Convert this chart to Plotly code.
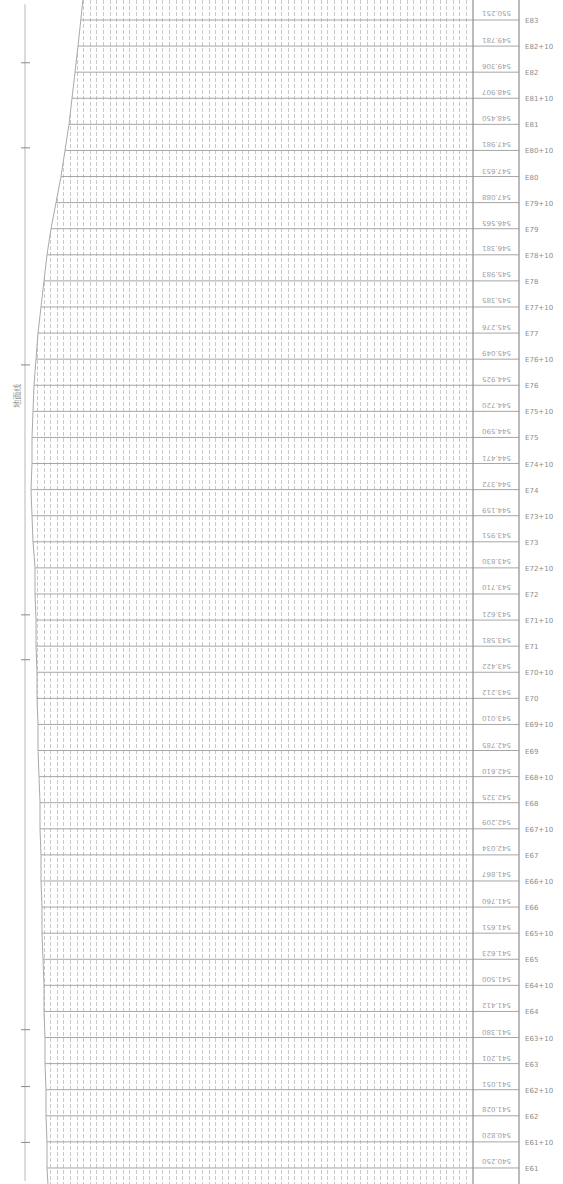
import plotly.graph_objects as go

# Stations from top (E83) to bottom (E61), every half station (+10)
station_labels = []
station_values = []
for k in range(83, 60, -1):
    station_labels.append(f"E{k}")
    station_values.append(float(k))
    if k > 61:
        station_labels.append(f"E{k-1}+10")
        station_values.append(k - 0.5)

# Elevations written (upside down) in the right-hand column, top to bottom
elevations = [
    "550.251", "549.781", "549.306", "548.907", "548.450", "547.981", "547.653",
    "547.088", "546.565", "546.381", "545.983", "545.385", "545.276", "545.049",
    "544.925", "544.720", "544.590", "544.471", "544.372", "544.159", "543.951",
    "543.830", "543.710", "543.621", "543.581", "543.422", "543.212", "543.010",
    "542.785", "542.610", "542.325", "542.209", "542.034", "541.867", "541.760",
    "541.651", "541.623", "541.500", "541.412", "541.380", "541.201", "541.051",
    "541.028", "540.820", "540.250",
]

# Ground line (left edge of the grid) at each station, drawing units
ground_line = [
    81, 78, 75, 72, 69, 65, 61, 56, 51, 47, 44, 41, 38, 36, 34, 33, 32, 32, 31,
    32, 33, 35, 35, 36, 36, 37, 37, 38, 38, 39, 40, 40, 41, 41, 42, 42, 43, 44,
    44, 45, 45, 46, 46, 47, 47,
]
ground_ends_station = [83.40, 60.68]
ground_ends_value = [83, 48]

# Tick marks on the left scale line (stations)
left_marks = [82.18, 80.55, 76.39, 71.60, 70.74, 63.65, 62.56, 61.49]

Y_TOP, Y_BOT = 83.383, 60.693
X_MAX = 563
BOX_L, BOX_R = 473, 519

fig = go.Figure()

# ground line with white fill to hide the grid on its left
gx = [ground_ends_value[0]] + ground_line + [ground_ends_value[1]]
gy = [ground_ends_station[0]] + station_values + [ground_ends_station[1]]
fig.add_trace(go.Scatter(
    x=gx, y=gy, mode="lines", fill="tozerox", fillcolor="white",
    line=dict(color="#a9a9a9", width=1), hoverinfo="skip", showlegend=False))

# white panel hiding the grid inside the elevation box and to its right
fig.add_trace(go.Scatter(
    x=[BOX_L, X_MAX, X_MAX, BOX_L, BOX_L], y=[Y_BOT - 1, Y_BOT - 1, Y_TOP + 1, Y_TOP + 1, Y_BOT - 1],
    mode="lines", fill="toself", fillcolor="white", line=dict(width=0, color="white"),
    hoverinfo="skip", showlegend=False))

# horizontal station lines from the ground line to the right of the box
hx, hy = [], []
for g, s in zip(ground_line, station_values):
    hx += [g, BOX_R, None]
    hy += [s, s, None]
fig.add_trace(go.Scatter(
    x=hx, y=hy, mode="lines", line=dict(color="#a6a6a6", width=1),
    hoverinfo="skip", showlegend=False))

shapes = [
    # box borders
    dict(type="line", xref="x", yref="paper", x0=BOX_L, x1=BOX_L, y0=0, y1=1,
         line=dict(color="#8e8e8e", width=1.2)),
    dict(type="line", xref="x", yref="paper", x0=BOX_R, x1=BOX_R, y0=0, y1=1,
         line=dict(color="#8e8e8e", width=1.2)),
    # left scale line
    dict(type="line", xref="x", yref="y", x0=25, x1=25, y0=83.3, y1=60.75,
         line=dict(color="#b8b8b8", width=1)),
]
for m in left_marks:
    shapes.append(dict(type="line", xref="x", yref="y", x0=21, x1=30, y0=m, y1=m,
                       line=dict(color="#8a8a8a", width=1)))

annotations = []
for lab, s, e in zip(station_labels, station_values, elevations):
    annotations.append(dict(x=BOX_R + 4, y=s - 0.02, xref="x", yref="y", text=lab,
                            showarrow=False, xanchor="left", yanchor="middle",
                            font=dict(size=7, color="#8c8c8c", family="DejaVu Sans")))
    annotations.append(dict(x=(BOX_L + BOX_R) / 2 + 1, y=s + 0.12, xref="x", yref="y",
                            text=e, textangle=180, showarrow=False,
                            xanchor="center", yanchor="middle",
                            font=dict(size=7, color="#a0a0a0", family="DejaVu Sans")))
annotations.append(dict(x=17, y=75.8, xref="x", yref="y", text="地面线", textangle=-90,
                        showarrow=False, font=dict(size=8, color="#9a9a9a",
                                                    family="Noto Sans CJK SC")))

fig.update_layout(
    width=563, height=1184, margin=dict(l=0, r=0, t=0, b=0),
    paper_bgcolor="white", plot_bgcolor="white",
    shapes=shapes, annotations=annotations, showlegend=False,
    xaxis=dict(range=[0, X_MAX], showgrid=True, gridcolor="#c9c9c9", gridwidth=1,
               griddash="4px,2px", tick0=BOX_L, dtick=6.6, showticklabels=False,
               ticks="", zeroline=False, showline=False, fixedrange=True),
    yaxis=dict(range=[Y_BOT, Y_TOP], showgrid=False, showticklabels=False,
               ticks="", zeroline=False, showline=False, fixedrange=True),
)

fig.write_html("out.html", config={"displayModeBar": False})

# remove the default page margin so the figure fills the window exactly
with open("out.html", "r", encoding="utf-8") as f:
    html = f.read()
html = html.replace("<head>", "<head><style>html,body{margin:0;padding:0;overflow:hidden;}</style>", 1)
with open("out.html", "w", encoding="utf-8") as f:
    f.write(html)
